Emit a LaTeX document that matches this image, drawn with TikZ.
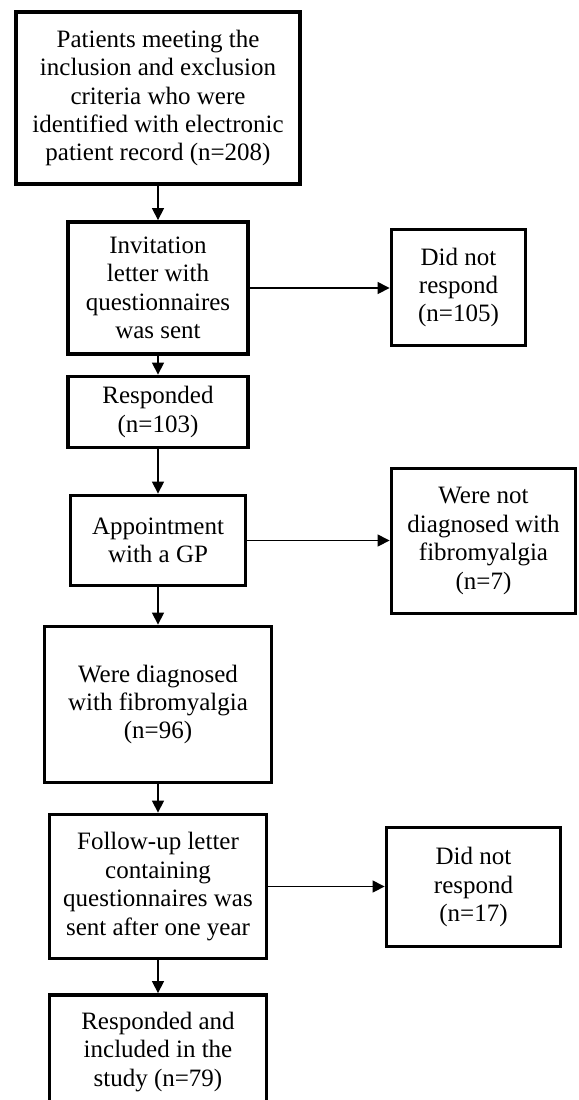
\documentclass[tikz,border=0pt]{standalone}
\usepackage{fontspec}
\setmainfont{Liberation Serif}
\usetikzlibrary{positioning, arrows.meta}

\begin{document}
\begin{tikzpicture}[x=0.5pt, y=-0.5pt,
        box/.style={draw, line width=1.9pt, inner sep=0pt, align=center,
                    font=\fontsize{12.5}{14.2}\selectfont},
        arr/.style={line width=0.6pt, -{Triangle[length=6pt, width=6pt]}}]
        \useasboundingbox (0,0) rectangle (579,1100);

        % main column
        \node[box, minimum width=142pt, minimum height=86pt] (patients) at (158,98)
            {Patients meeting the\\inclusion and exclusion\\criteria who were\\identified with electronic\\patient record (n=208)};
        \node[box, minimum width=90pt, minimum height=66pt] (invite) at (158,288)
            {Invitation\\letter with\\questionnaires\\was sent};
        \node[box, minimum width=90pt, minimum height=35.5pt] (responded) at (158,412)
            {Responded\\(n=103)};
        \node[box, minimum width=87.5pt, minimum height=45pt] (appoint) at (158,540.5)
            {Appointment\\with a GP};
        \node[box, minimum width=113.5pt, minimum height=78pt] (diag) at (158,704.5)
            {Were diagnosed\\with fibromyalgia\\(n=96)};
        \node[box, minimum width=108.5pt, minimum height=72pt] (followup) at (158,886.5)
            {Follow-up letter\\containing\\questionnaires was\\sent after one year};
        \node[box, minimum width=108.5pt, minimum height=57pt] (included) at (158,1052)
            {Responded and\\included in the\\study (n=79)};

        % side boxes
        \node[box, minimum width=67pt, minimum height=58pt] (noresp1) at (458.5,287.5)
            {Did not\\respond\\(n=105)};
        \node[box, minimum width=92pt, minimum height=72.5pt] (notdiag) at (483.5,541)
            {Were not\\diagnosed with\\fibromyalgia\\(n=7)};
        \node[box, minimum width=87pt, minimum height=59.5pt] (noresp2) at (473.5,887)
            {Did not\\respond\\(n=17)};

        % arrows down
        \draw[arr] (patients) -- (invite);
        \draw[arr] (invite) -- (responded);
        \draw[arr] (responded) -- (appoint);
        \draw[arr] (appoint) -- (diag);
        \draw[arr] (diag) -- (followup);
        \draw[arr] (followup) -- (included);

        % arrows right
        \draw[arr] (invite.east) -- (invite.east -| noresp1.west);
        \draw[arr] (appoint.east) -- (appoint.east -| notdiag.west);
        \draw[arr] (followup.east) -- (followup.east -| noresp2.west);
    \end{tikzpicture}
\end{document}
